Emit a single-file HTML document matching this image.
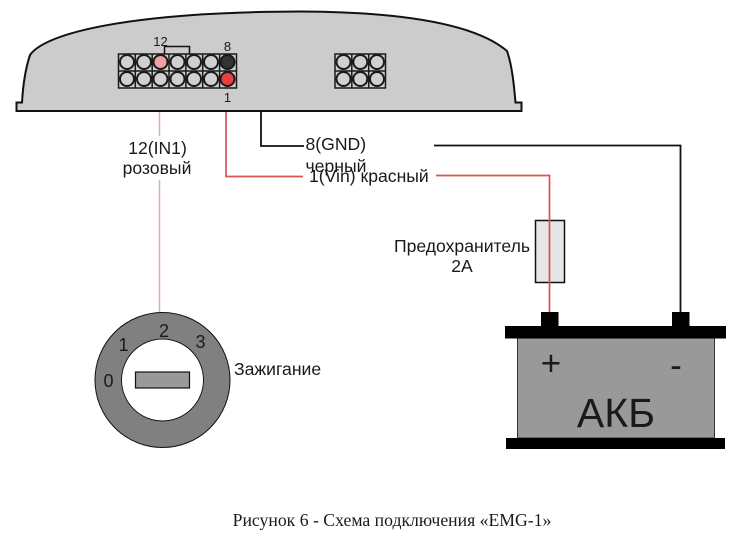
<!DOCTYPE html>
<html><head><meta charset="utf-8"><style>
html,body{margin:0;padding:0;background:#fff;width:736px;height:537px;overflow:hidden}
svg{display:block;filter:blur(.3px)}
text{font-family:"Liberation Sans",sans-serif;fill:#1a1a1a}
</style></head><body>
<svg width="736" height="537" viewBox="0 0 736 537">
<path d="M16.500 111V102.500H22C23 85 25 70 30 55C45 33 130 12 300 11.500C420 12 480 28 507 51C512 65 514 85 515.500 102.500H521.500V111Z" fill="#cccccc" stroke="#111" stroke-width="2"/>
<path d="M164.500 54V46.500H189.500V54" fill="none" stroke="#111" stroke-width="1.500"/>
<g fill="#cccccc" stroke="#1a1a1a" stroke-width="1.500">
<rect x="118.500" y="54" width="118" height="34"/>
<path d="M135.300 54V88M152.200 54V88M169 54V88M185.900 54V88M202.700 54V88M219.600 54V88M118.500 71H236.500" fill="none"/>
<rect x="335" y="54" width="50.500" height="34"/>
<path d="M351.800 54V88M368.700 54V88M335 71H385.500" fill="none"/>
</g>
<g stroke="#1a1a1a" stroke-width="2" fill="#d0d0d0">
<circle cx="127" cy="62" r="7"/><circle cx="144" cy="62" r="7"/><circle cx="160.500" cy="62" r="7" fill="#f0a0a0"/><circle cx="177.500" cy="62" r="7"/><circle cx="194" cy="62" r="7"/><circle cx="211" cy="62" r="7"/><circle cx="227.500" cy="62" r="7" fill="#333"/>
<circle cx="127" cy="79" r="7"/><circle cx="144" cy="79" r="7"/><circle cx="160.500" cy="79" r="7"/><circle cx="177.500" cy="79" r="7"/><circle cx="194" cy="79" r="7"/><circle cx="211" cy="79" r="7"/><circle cx="227.500" cy="79" r="7" fill="#e84040"/>
<circle cx="343.500" cy="62" r="7"/><circle cx="360.300" cy="62" r="7"/><circle cx="377" cy="62" r="7"/>
<circle cx="343.500" cy="79" r="7"/><circle cx="360.300" cy="79" r="7"/><circle cx="377" cy="79" r="7"/>
</g>
<text x="160.500" y="46" font-size="13" text-anchor="middle">12</text>
<text x="227.500" y="51" font-size="13" text-anchor="middle">8</text>
<text x="227.500" y="102" font-size="13" text-anchor="middle">1</text>

<rect x="535.500" y="220.500" width="29" height="62" fill="#e6e6e6" stroke="#111" stroke-width="1.500"/>
<g fill="none">
<path d="M159.500 112V136M159.500 180V313" stroke="#e8a8a4" stroke-width="1.500"/>
<path d="M226 112V176.500H303M436 175.500H549.500V312" stroke="#d9534f" stroke-width="1.700"/>
<path d="M261 112V146H304M434 145.500H680.500V312" stroke="#111" stroke-width="1.800"/>
</g>
<text x="157.500" y="154" font-size="17.600" text-anchor="middle">12(IN1)</text>
<text x="157" y="174" font-size="17.600" text-anchor="middle">розовый</text>
<text x="305.500" y="150" font-size="17.600">8(GND)</text>
<text x="305.500" y="172" font-size="17.600">черный</text>
<text x="309" y="182" font-size="17.600">1(Vin) красный</text>
<text x="462" y="252" font-size="17.600" text-anchor="middle">Предохранитель</text>
<text x="462" y="272" font-size="17.600" text-anchor="middle">2А</text>

<circle cx="162.500" cy="380" r="54.500" fill="none" stroke="#808080" stroke-width="26"/>
<circle cx="162.500" cy="380" r="67.500" fill="none" stroke="#111" stroke-width="1"/>
<circle cx="162.500" cy="380" r="41" fill="#fff" stroke="#111" stroke-width="1"/>
<rect x="135.500" y="372" width="54" height="16" fill="#999" stroke="#111" stroke-width="1.200"/>
<text x="108.500" y="387" font-size="18" text-anchor="middle">0</text>
<text x="123.500" y="351" font-size="18" text-anchor="middle">1</text>
<text x="164" y="337" font-size="18" text-anchor="middle">2</text>
<text x="200.500" y="348" font-size="18" text-anchor="middle">3</text>
<text x="234" y="375" font-size="17.600">Зажигание</text>

<rect x="517.500" y="338" width="197" height="100" fill="#999" stroke="#333" stroke-width="1"/>
<rect x="505" y="326" width="221" height="12.500" fill="#000"/>
<rect x="506" y="438" width="219" height="11" fill="#000"/>
<rect x="541" y="312" width="17.500" height="15" fill="#000"/>
<rect x="672" y="312" width="17.500" height="15" fill="#000"/>
<text x="551" y="375" font-size="35" text-anchor="middle" fill="#111">+</text>
<text x="676" y="377" font-size="35" text-anchor="middle" fill="#111">-</text>
<text x="616" y="427" font-size="41" text-anchor="middle" fill="#111">АКБ</text>

<text x="392" y="526" font-size="17.700" text-anchor="middle" style="font-family:'Liberation Serif',serif">Рисунок 6 - Схема подключения «EMG-1»</text>
</svg>
</body></html>
